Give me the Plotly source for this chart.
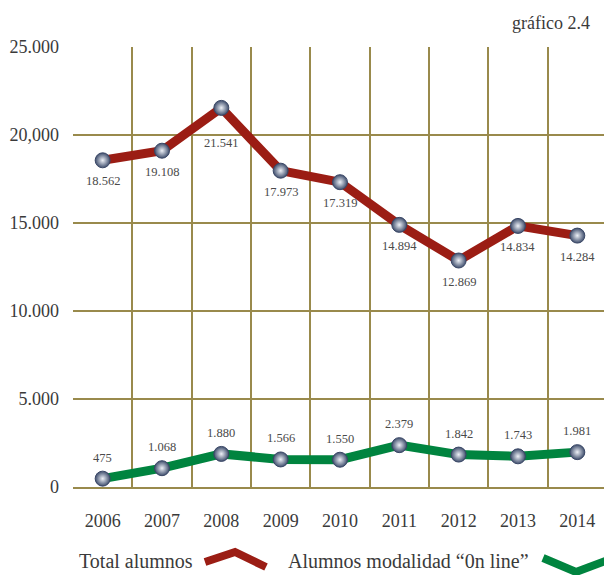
import plotly.graph_objects as go

years = ["2006", "2007", "2008", "2009", "2010", "2011", "2012", "2013", "2014"]
total_alumnos = [18562, 19108, 21541, 17973, 17319, 14894, 12869, 14834, 14284]
online_alumnos = [475, 1068, 1880, 1566, 1550, 2379, 1842, 1743, 1981]
total_labels = ["18.562", "19.108", "21.541", "17.973", "17.319", "14.894", "12.869", "14.834", "14.284"]
online_labels = ["475", "1.068", "1.880", "1.566", "1.550", "2.379", "1.842", "1.743", "1.981"]
y_tickvals = [0, 5000, 10000, 15000, 20000, 25000]
y_ticktext = ["0", "5.000", "10.000", "15.000", "20,000", "25.000"]

RED = "#9b1d14"
GREEN = "#00843f"
GRID = "#998a4c"
TEXT = "#3a3a3a"
LABEL = "#4a4a4a"
FONT = "Liberation Serif"

W, H = 604, 575
L, R, T, B = 73, 0, 47, 88
PW, PH = W - L - R, H - T - B

def px(x):
    return (x - L) / PW

def py(y):
    return (H - B - y) / PH

xs = list(range(len(years)))

marker = dict(size=15, color="#3e4d6c",
              gradient=dict(type="radial", color="#eef1f7"),
              line=dict(width=1, color="#3a4766"))

fig = go.Figure()
fig.add_trace(go.Scatter(x=xs, y=total_alumnos, mode="lines+markers",
                         line=dict(color=RED, width=9), marker=marker,
                         hoverinfo="skip", showlegend=False))
fig.add_trace(go.Scatter(x=xs, y=online_alumnos, mode="lines+markers",
                         line=dict(color=GREEN, width=9), marker=marker,
                         hoverinfo="skip", showlegend=False))

annotations = []
for i, (v, lab) in enumerate(zip(total_alumnos, total_labels)):
    shift = -35 if v == max(total_alumnos) else -21
    annotations.append(dict(x=i, y=v, text=lab, showarrow=False, yshift=shift,
                            font=dict(family=FONT, size=12.5, color=LABEL)))
for i, (v, lab) in enumerate(zip(online_alumnos, online_labels)):
    annotations.append(dict(x=i, y=v, text=lab, showarrow=False, yshift=21,
                            font=dict(family=FONT, size=12.5, color=LABEL)))

annotations.append(dict(xref="paper", yref="paper", x=px(592), y=py(23),
                        xanchor="right", yanchor="middle", text="gráfico 2.4",
                        showarrow=False, font=dict(family=FONT, size=18, color=TEXT)))
annotations.append(dict(xref="paper", yref="paper", x=px(77), y=py(561),
                        xanchor="left", yanchor="middle", text="Total alumnos",
                        showarrow=False, font=dict(family=FONT, size=20, color=TEXT)))
annotations.append(dict(xref="paper", yref="paper", x=px(286), y=py(561),
                        xanchor="left", yanchor="middle", text="Alumnos modalidad “0n line”",
                        showarrow=False, font=dict(family=FONT, size=20, color=TEXT)))

def path(pts):
    return "M " + " L ".join(f"{px(a):.5f},{py(b):.5f}" for a, b in pts)

shapes = [
    dict(type="path", xref="paper", yref="paper",
         path=path([(205, 562), (235, 552), (266, 567)]),
         line=dict(color=RED, width=8)),
    dict(type="path", xref="paper", yref="paper",
         path=path([(543, 558), (576, 572), (608, 560)]),
         line=dict(color=GREEN, width=8)),
]

fig.update_layout(
    width=W, height=H,
    margin=dict(l=L, r=R, t=T, b=B),
    paper_bgcolor="white", plot_bgcolor="white",
    annotations=annotations, shapes=shapes,
    xaxis=dict(range=[-0.5, 8.45], tickvals=xs, ticktext=years,
               showgrid=False, zeroline=False, ticks="",
               showline=True, linecolor=GRID, linewidth=2,
               ticklabelstandoff=16,
               tickfont=dict(family=FONT, size=18, color=TEXT),
               minor=dict(tickvals=[i - 0.5 for i in range(len(years) + 1)],
                          showgrid=True, gridcolor=GRID, gridwidth=1.6, ticks="")),
    yaxis=dict(range=[0, 25000], tickvals=y_tickvals, ticktext=y_ticktext,
               showgrid=True, gridcolor=GRID, gridwidth=1.6, zeroline=False,
               showline=False, ticks="", ticklabelstandoff=13,
               tickfont=dict(family=FONT, size=18, color=TEXT)),
)

fig.write_html("out.html", config={"displayModeBar": False},
               post_script="document.body.style.margin='0';document.body.style.overflow='hidden';")
